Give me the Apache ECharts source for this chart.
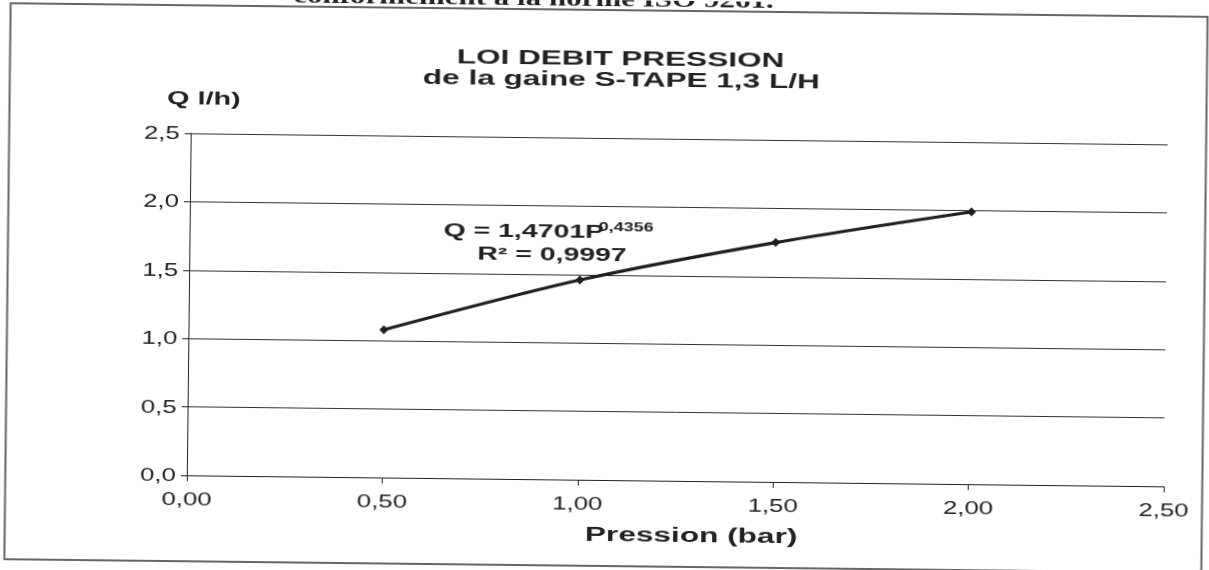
<!DOCTYPE html>
<html style="height: 100%">
<head>
    <meta charset="utf-8">
    <title>Loi debit pression</title>
</head>
<body style="margin: 0; background: #fff; overflow: hidden">
<!-- le document d'origine est un scan legerement incline -->
<div id="container" style="width: 1209px; height: 570px; transform: rotate(0.65deg)"></div>

<script src="https://cdn.jsdelivr.net/npm/echarts@6/dist/echarts.min.js" type="text/javascript"></script>

<script type="text/javascript">
    // pression (bar) et debit (l/h)
    var pression = [0.5, 1.0, 1.5, 2.0];
    var debit = [1.08, 1.46, 1.75, 1.99];
    var xTicks = [0, 0.5, 1, 1.5, 2, 2.5];
    var yTicks = [0, 0.5, 1, 1.5, 2, 2.5];

    var font = 'Arial, "Liberation Sans", sans-serif';
    var ink = '#222';
    // le scan est etire horizontalement : les textes le sont aussi
    var stretch = 1.45;

    var points = pression.map(function (p, i) { return [p, debit[i]]; });

    var dom = document.getElementById("container");
    var myChart = echarts.init(dom);

    var option = {
        backgroundColor: '#ffffff',
        animation: false,
        grid: {left: 189, right: 43, top: 138, bottom: 90},
        xAxis: {
            type: 'value',
            min: 0, max: 2.5, interval: 0.5,
            axisLine: {lineStyle: {color: ink, width: 1}},
            axisTick: {show: true, inside: false, length: 6, lineStyle: {color: ink}},
            axisLabel: {show: false},
            splitLine: {show: false}
        },
        yAxis: {
            type: 'value',
            min: 0, max: 2.5, interval: 0.5,
            axisLine: {show: true, lineStyle: {color: ink, width: 1}},
            axisTick: {show: true, inside: false, length: 6, lineStyle: {color: ink}},
            axisLabel: {show: false},
            splitLine: {show: true, lineStyle: {color: '#333', width: 1}}
        },
        series: [
            {
                type: 'line',
                data: points,
                smooth: 0.3,
                symbol: 'diamond',
                symbolSize: 9,
                lineStyle: {color: '#1e1e1e', width: 3.2},
                itemStyle: {color: '#1e1e1e'}
            }
        ]
    };

    myChart.setOption(option);

    function txt(text, x, y, size, align, sx, fam) {
        return {
            type: 'text', x: x, y: y, scaleX: sx || stretch, silent: true,
            style: {
                text: text, align: align, verticalAlign: 'middle', fill: ink,
                font: size + 'px ' + (fam || font)
            }
        };
    }

    var graphics = [
        {
            type: 'rect',
            shape: {x: 7.5, y: 10, width: 1197, height: 556},
            style: {fill: null, stroke: '#666', lineWidth: 2},
            silent: true
        },
        txt('conformément à la norme ISO 9261.', 290, 1, 'bold 20', 'left', 1.55,
            '"Liberation Serif", "DejaVu Serif", serif'),
        txt('LOI DEBIT PRESSION', 618, 59, 'bold 21', 'center', 1.5),
        txt('de la gaine S-TAPE 1,3 L/H', 619, 80, 'bold 21', 'center', 1.5),
        txt('Q l/h)', 165, 104, 'bold 18', 'left', 1.6),
        txt('Pression (bar)', 694, 535, 'bold 20', 'center', 1.58),
        txt('Q = 1,4701P', 443, 233, 'bold 18', 'left', 1.58),
        txt('0,4356', 598, 228, 'bold 12', 'left', 1.5),
        txt('R² = 0,9997', 477, 256, 'bold 18', 'left', 1.58)
    ];

    // etiquettes des graduations, placees par les echelles de l'axe
    xTicks.forEach(function (v) {
        var px = myChart.convertToPixel({xAxisIndex: 0}, v);
        graphics.push(txt(v.toFixed(2).replace('.', ','), px, 505, 18, 'center', 1.43));
    });
    yTicks.forEach(function (v) {
        var py = myChart.convertToPixel({yAxisIndex: 0}, v);
        graphics.push(txt(v.toFixed(1).replace('.', ','), 178, py + 1, 18, 'right', 1.43));
    });

    myChart.setOption({graphic: graphics});
</script>
</body>
</html>
